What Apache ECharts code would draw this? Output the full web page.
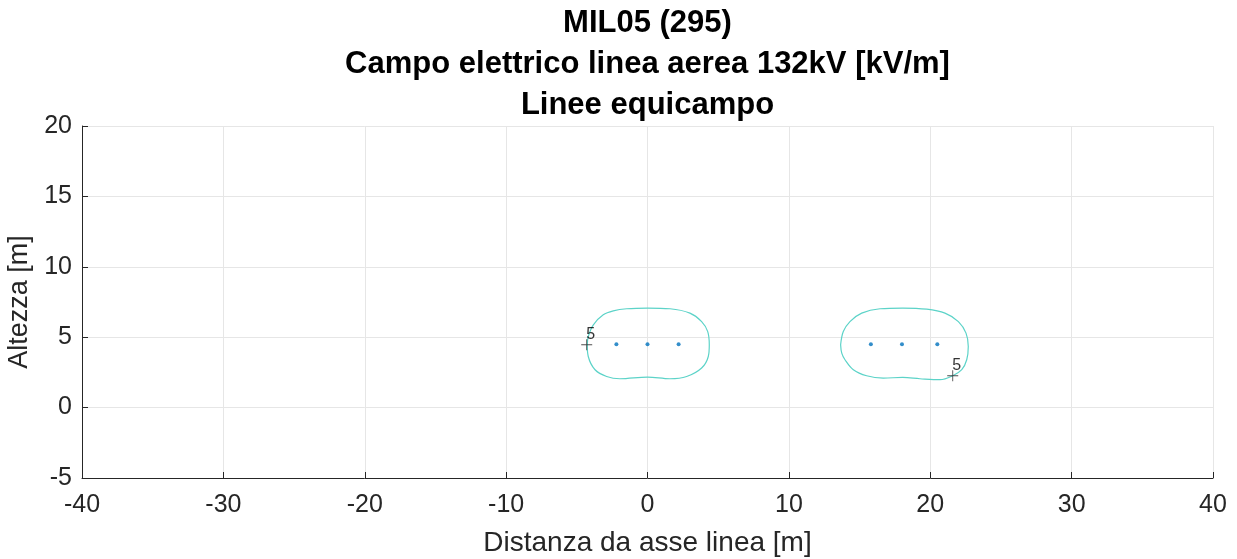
<!DOCTYPE html>
<html>
<head>
<meta charset="utf-8">
<script src="https://cdn.jsdelivr.net/npm/echarts@6/dist/echarts.min.js"></script>
<style>
html,body{margin:0;padding:0;background:#fff;}
#c{width:1237px;height:559px;}
</style>
</head>
<body>
<div id="c"></div>
<script>
// Equi-field contour (5 kV/m) around line 1
const contour1 = [
  [-4.26,4.46],[-4.19,5.05],[-3.83,5.88],[-3.13,6.59],[-2.42,6.87],[-1.47,7.02],[0.0,7.07],
  [1.59,7.02],[3.0,6.71],[3.83,6.11],[4.26,5.40],[4.37,4.46],[4.30,3.63],[3.83,2.81],
  [2.77,2.21],[1.59,2.05],[0.0,2.17],[-1.95,2.05],[-2.89,2.21],[-3.71,2.69],[-4.19,3.63],[-4.26,4.46]
];
// Equi-field contour (5 kV/m) around line 2
const contour2 = [
  [13.66,4.46],[13.85,5.40],[14.32,6.11],[15.15,6.71],[16.45,7.02],[18.05,7.07],[19.75,6.99],
  [21.04,6.71],[21.99,6.11],[22.53,5.29],[22.69,4.34],[22.58,3.40],[22.23,2.69],[21.59,2.26],
  [20.69,1.98],[19.27,2.05],[18.05,2.14],[16.68,2.10],[15.50,2.26],[14.56,2.69],[13.97,3.40],
  [13.74,3.87],[13.66,4.46]
];
// Conductor positions
const conductors = [[-2.2,4.5],[0,4.5],[2.2,4.5],[15.8,4.5],[18.0,4.5],[20.5,4.5]];
// Contour level label anchors
const labelPoints = [[-4.3,4.46],[21.59,2.26]];
const levelLabel = '5';
const xTicks = {min:-40,max:40,interval:10};
const yTicks = {min:-5,max:20,interval:5};
const titleText = 'MIL05 (295)\nCampo elettrico linea aerea 132kV [kV/m]\nLinee equicampo';

const axisColor = '#262626';
const font = '"Liberation Sans", Arial, sans-serif';
const chart = echarts.init(document.getElementById('c'), null, {renderer:'canvas'});
const contourStyle = {type:'line', smooth:0.35, showSymbol:false, symbol:'none',
  lineStyle:{color:'#5cd3c8', width:1.2}, z:3, silent:true};
chart.setOption({
  animation:false,
  backgroundColor:'#fff',
  textStyle:{fontFamily:font},
  title:{text:titleText, left:647.5, top:3, padding:0, textAlign:'center',
    textStyle:{fontFamily:font, fontSize:31, fontWeight:'bold', color:'#000', lineHeight:41}},
  grid:{left:82, right:24, top:126, bottom:81, containLabel:false, outerBoundsMode:'none'},
  xAxis:{type:'value', min:xTicks.min, max:xTicks.max, interval:xTicks.interval,
    name:'Distanza da asse linea [m]', nameLocation:'middle', nameGap:51,
    nameTextStyle:{fontFamily:font, fontSize:28, color:axisColor},
    axisLine:{show:true, onZero:false, lineStyle:{color:axisColor, width:1}},
    axisTick:{show:true, inside:true, length:6, lineStyle:{color:axisColor}},
    axisLabel:{fontFamily:font, fontSize:25, color:axisColor, margin:15},
    splitLine:{show:true, lineStyle:{color:'#e6e6e6', width:1}}},
  yAxis:{type:'value', min:yTicks.min, max:yTicks.max, interval:yTicks.interval,
    name:'Altezza [m]', nameLocation:'middle', nameGap:48, nameRotate:90,
    nameTextStyle:{fontFamily:font, fontSize:27, color:axisColor},
    axisLine:{show:true, onZero:false, lineStyle:{color:axisColor, width:1}},
    axisTick:{show:true, inside:true, length:6, lineStyle:{color:axisColor}},
    axisLabel:{fontFamily:font, fontSize:25, color:axisColor, margin:10},
    splitLine:{show:true, lineStyle:{color:'#e6e6e6', width:1}}},
  series:[
    Object.assign({data:contour1}, contourStyle),
    Object.assign({data:contour2}, contourStyle),
    {type:'scatter', data:conductors, symbol:'circle', symbolSize:4,
      itemStyle:{color:'#0072bd'}, z:4, silent:true},
    {type:'scatter', data:labelPoints, symbol:'path://M0,4.6h10v0.8h-10z M4.6,0h0.8v10h-0.8z',
      symbolSize:11, itemStyle:{color:'#222'}, z:5, silent:true,
      label:{show:true, formatter:levelLabel, position:[5,-13], fontFamily:font, fontSize:16, color:'#000'}}
  ]
});
</script>
</body>
</html>
